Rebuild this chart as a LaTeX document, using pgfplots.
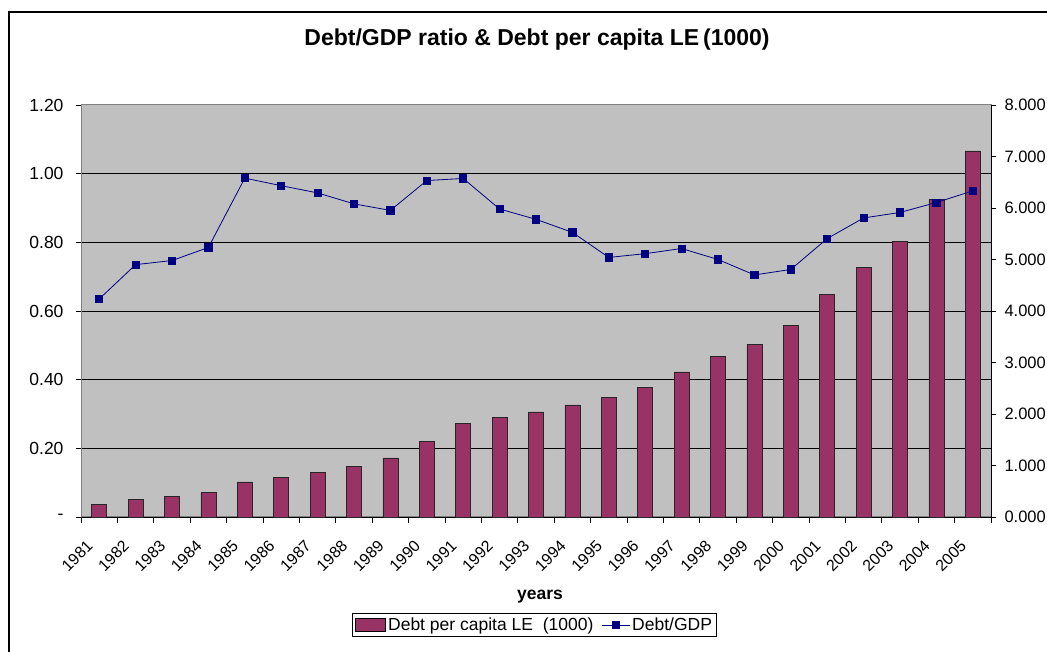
\documentclass[border=0pt]{standalone}
\usepackage{pgfplots}
\usepackage{pgfplotstable}
\pgfplotsset{compat=1.18}
\usepackage{fontspec}
\setmainfont{Liberation Sans}
\definecolor{bgcol}{HTML}{C0C0C0}
\definecolor{barcol}{HTML}{993366}
\definecolor{linecol}{HTML}{000080}
\definecolor{axgray}{HTML}{808080}

\pgfplotstableread{
idx year debt ratio
0 1981 0.245 0.635
1 1982 0.336 0.735
2 1983 0.400 0.747
3 1984 0.472 0.785
4 1985 0.680 0.987
5 1986 0.769 0.965
6 1987 0.866 0.944
7 1988 0.983 0.912
8 1989 1.146 0.893
9 1990 1.468 0.980
10 1991 1.817 0.986
11 1992 1.934 0.897
12 1993 2.039 0.867
13 1994 2.175 0.829
14 1995 2.322 0.756
15 1996 2.524 0.767
16 1997 2.816 0.782
17 1998 3.113 0.750
18 1999 3.351 0.705
19 2000 3.728 0.721
20 2001 4.322 0.811
21 2002 4.854 0.871
22 2003 5.351 0.887
23 2004 6.161 0.916
24 2005 7.107 0.950
}\data

\pgfplotsset{
  base/.style={at={(81pt,134pt)}, anchor=south west, width=910pt, height=412pt,
    scale only axis, xmin=-0.5, xmax=24.5,
    tick style={black, line width=0.8pt}, tick align=outside,
    major tick length=5pt, minor tick length=6pt,
    yticklabel style={font=\fontsize{17.5}{20}\selectfont},
  }
}

\begin{document}
\begin{tikzpicture}[x=1pt,y=1pt]
\clip (0,0) rectangle (1047,651);
\path[use as bounding box] (0,0) rectangle (1047,651);
\fill[white] (0,0) rectangle (1047,651);
\draw[line width=1.2pt] (9,-5) -- (9,639) -- (1055,639);

% Axis A: background, grid, left ticks
\begin{axis}[base, ymin=0, ymax=1.2,
  axis background/.style={fill=bgcol},
  axis line style={axgray, line width=1pt},
  xtick=\empty, ytick pos=left,
  ytick={0.2,0.4,0.6,0.8,1.0},
  yticklabels={0.20,0.40,0.60,0.80,1.00},
  extra y ticks={0,1.2},
  extra y tick labels={{-\hspace{20pt}},1.20},
  extra y tick style={grid=none},
  ymajorgrids, grid style={black, line width=0.8pt},
  yticklabel style={xshift=-9pt},
]
\end{axis}

% Axis B: bars, right axis, x axis
\begin{axis}[base, ymin=0, ymax=8,
  axis x line*=bottom, axis y line*=right,
  axis line style={black, line width=1pt},
  ytick={0,1,2,3,4,5,6,7,8},
  yticklabels={0.000,1.000,2.000,3.000,4.000,5.000,6.000,7.000,8.000},
  yticklabel style={xshift=5pt, font=\fontsize{16.5}{20}\selectfont},
  xtick={0,...,24},
  xticklabels from table={\data}{year},
  major x tick style={draw=none},
  minor xtick={-0.5,0.5,...,24.5},
  xticklabel style={xshift=-7pt, yshift=-19pt, rotate=45, anchor=east, font=\fontsize{16}{19}\selectfont},
  ybar, bar width=15pt,
]
\addplot[fill=barcol, draw=black!85, line width=0.8pt] table[x=idx,y=debt]{\data};
\end{axis}

% Axis C: line
\begin{axis}[base, ymin=0, ymax=1.2, hide axis, clip=false,
  legend columns=2,
  legend style={at={(0.4985,-0.262)}, anchor=center, draw=black, line width=0.8pt,
    font=\fontsize{17.5}{21}\selectfont, inner sep=2.5pt,
    /tikz/every even column/.append style={column sep=6pt}},
]
\addlegendimage{legend image code/.code={\draw[fill=barcol, draw=black, line width=0.8pt] (0pt,-6pt) rectangle (30pt,7pt);}}
\addlegendentry{Debt per capita LE\ \ (1000)}
\addplot[linecol, line width=0.8pt, mark=square*, mark size=3.6pt, mark options={fill=linecol, solid},
  legend image code/.code={\draw[mark repeat=2, mark phase=2] plot coordinates {(0pt,0pt) (14pt,0pt) (28pt,0pt)};}]
  table[x=idx,y=ratio]{\data};
\addlegendentry{Debt/GDP}
\end{axis}

\node[font=\bfseries\fontsize{23}{27}\selectfont] at (537,611) {Debt/GDP ratio \& Debt per capita LE\,(1000)};
\node[font=\bfseries\fontsize{17.5}{20}\selectfont] at (540,54) {years};
\end{tikzpicture}
\end{document}
